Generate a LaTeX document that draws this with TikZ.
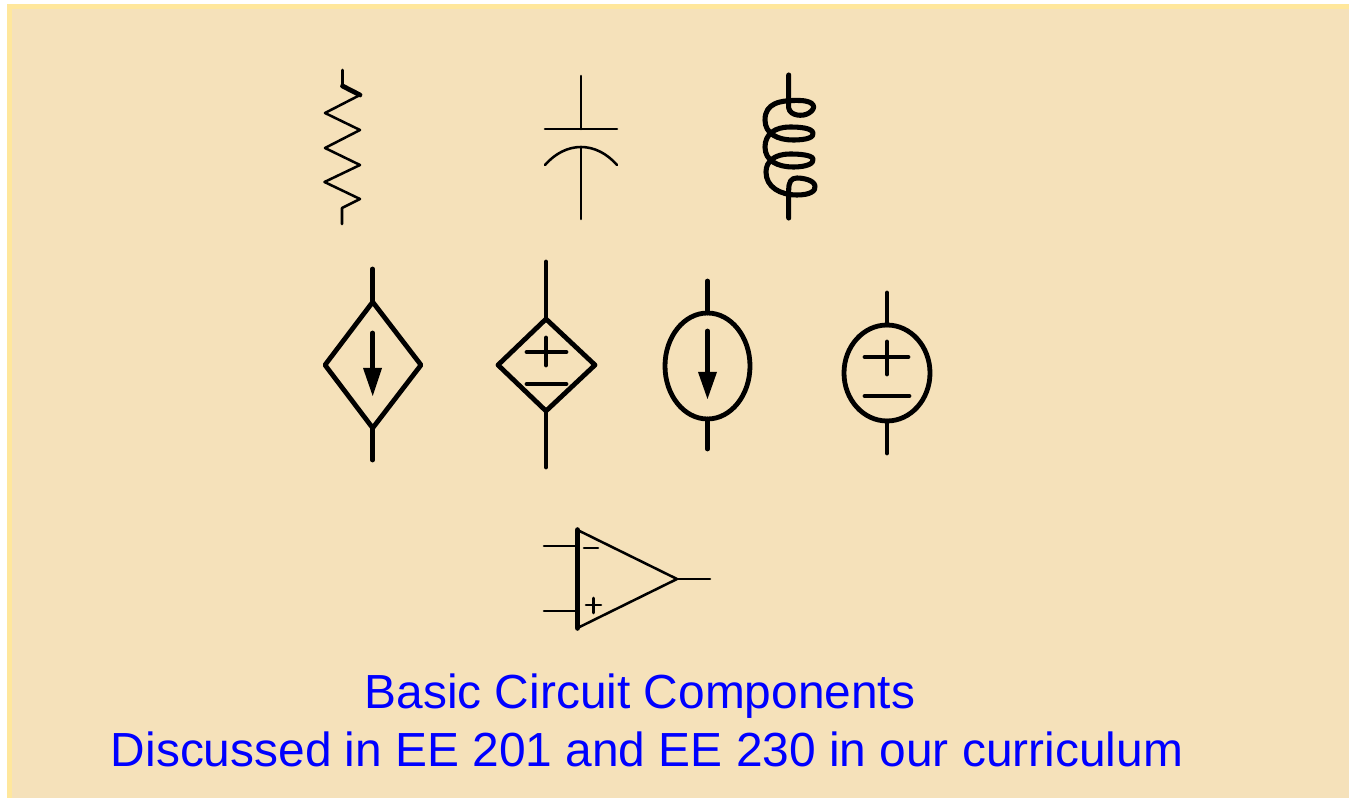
\documentclass[tikz,border=0pt]{standalone}
\usepackage{fontspec}
\setmainfont{Liberation Sans}
\definecolor{bgtan}{HTML}{F5E1BA}
\definecolor{bgedge}{HTML}{FFE79C}
\definecolor{titleblue}{HTML}{0000FF}
\tikzset{
  x=0.75pt,y=-0.75pt,
  thin wire/.style={line width=1.9pt,draw=black,line cap=round,line join=round},
  thick wire/.style={line width=3.6pt,draw=black,line cap=round,line join=round},
  coil wire/.style={line width=3.8pt,draw=black,line cap=round,line join=round},
  title text/.style={text=titleblue,font=\fontsize{35.9}{42}\selectfont,inner sep=0pt,anchor=base},
}
\begin{document}
\begin{tikzpicture}
\useasboundingbox (0,0) rectangle (1349,798);
\fill[white] (0,0) rectangle (1349,798);
\fill[bgedge] (7,4) rectangle (1349,798);
\fill[bgtan] (12,9) rectangle (1349,798);
% resistor
\draw[thin wire] (342.5,70) -- (342.5,86) -- (360,95) -- (325,113) -- (360,130) -- (325,148) -- (360,165) -- (324.5,182) -- (360,199) -- (342,208) -- (342,224);
\draw[thick wire] (342.5,86) -- (360,95);
% capacitor
\draw[thin wire] (581,76) -- (581,129);
\draw[thin wire] (545,129) -- (617,129);
\draw[thin wire] (545,165) .. controls (566,141) and (596,141) .. (617,165);
\draw[thin wire] (581,147) -- (581,219);
% inductor
\draw[coil wire] (788.7,75) -- (788.7,108)
 .. controls (790,116) and (803,117) .. (809,113)
 .. controls (817,108) and (815,101) .. (800,100.5)
 .. controls (780,100) and (765,103) .. (765,120)
 .. controls (765,134) and (778,140) .. (793,140)
 .. controls (808,140) and (814,137) .. (813,133)
 .. controls (812,128) and (800,127) .. (790,127)
 .. controls (775,127) and (765,134) .. (765,147)
 .. controls (765,161) and (778,167) .. (793,167)
 .. controls (808,167) and (814,163) .. (813,159)
 .. controls (812,155) and (800,154) .. (790,154)
 .. controls (775,154) and (766,161) .. (766,172)
 .. controls (766,187) and (780,195) .. (797,195)
 .. controls (810,195) and (816,191) .. (815,186)
 .. controls (814,180) and (803,178) .. (797,178)
 .. controls (791,178) and (788.7,182) .. (788.7,190)
 -- (788.7,218);
% dependent current source
\draw[thick wire] (372.7,269) -- (372.7,302);
\draw[thick wire] (372.7,302) -- (421,365) -- (372.7,428) -- (325,365) -- cycle;
\draw[thick wire] (372.7,428) -- (372.7,460);
\draw[thick wire] (372.7,333) -- (372.7,372);
\fill (363,368) -- (382,368) -- (372.7,396) -- cycle;
% dependent voltage source
\draw[thick wire] (546,262) -- (546,319);
\draw[thick wire] (546,319) -- (595,365) -- (546,411) -- (498,365) -- cycle;
\draw[thick wire] (546,411) -- (546,467);
\draw[thick wire] (527,352) -- (566,352);
\draw[thick wire] (546,338) -- (546,365);
\draw[thick wire] (527,384) -- (566,384);
% current source
\draw[thick wire] (707.5,366) ellipse (42.5 and 53);
\draw[thick wire] (707.5,281) -- (707.5,313);
\draw[thick wire] (707.5,419) -- (707.5,449);
\draw[thick wire] (707.5,331) -- (707.5,375);
\fill (698,372) -- (717,372) -- (707.5,399) -- cycle;
% voltage source
\draw[thick wire] (887,373) ellipse (43 and 48);
\draw[thick wire] (887,293) -- (887,325);
\draw[thick wire] (887,421) -- (887,453);
\draw[thick wire] (865,357) -- (908,357);
\draw[thick wire] (887,342) -- (887,374);
\draw[thick wire] (865,396) -- (909,396);
% op-amp
\draw[line width=4.2pt,draw=black,line cap=round] (577.5,530) -- (577.5,628);
\draw[thin wire] (577.5,530) -- (677,579) -- (577.5,628);
\draw[thin wire] (677,579) -- (710,579);
\draw[thin wire] (544,546) -- (577,546);
\draw[thin wire] (544,611) -- (577,611);
\draw[thin wire] (584,548) -- (598,548);
\draw[thin wire] (586,605) -- (601,605);
\draw[thin wire] (593.5,598) -- (593.5,613);
% titles
\node[title text] (line1) at (640,708) {Basic Circuit Components};
\node[title text] (line2) at (647,766) {Discussed in EE 201 and EE 230 in our curriculum};
\end{tikzpicture}
\end{document}
